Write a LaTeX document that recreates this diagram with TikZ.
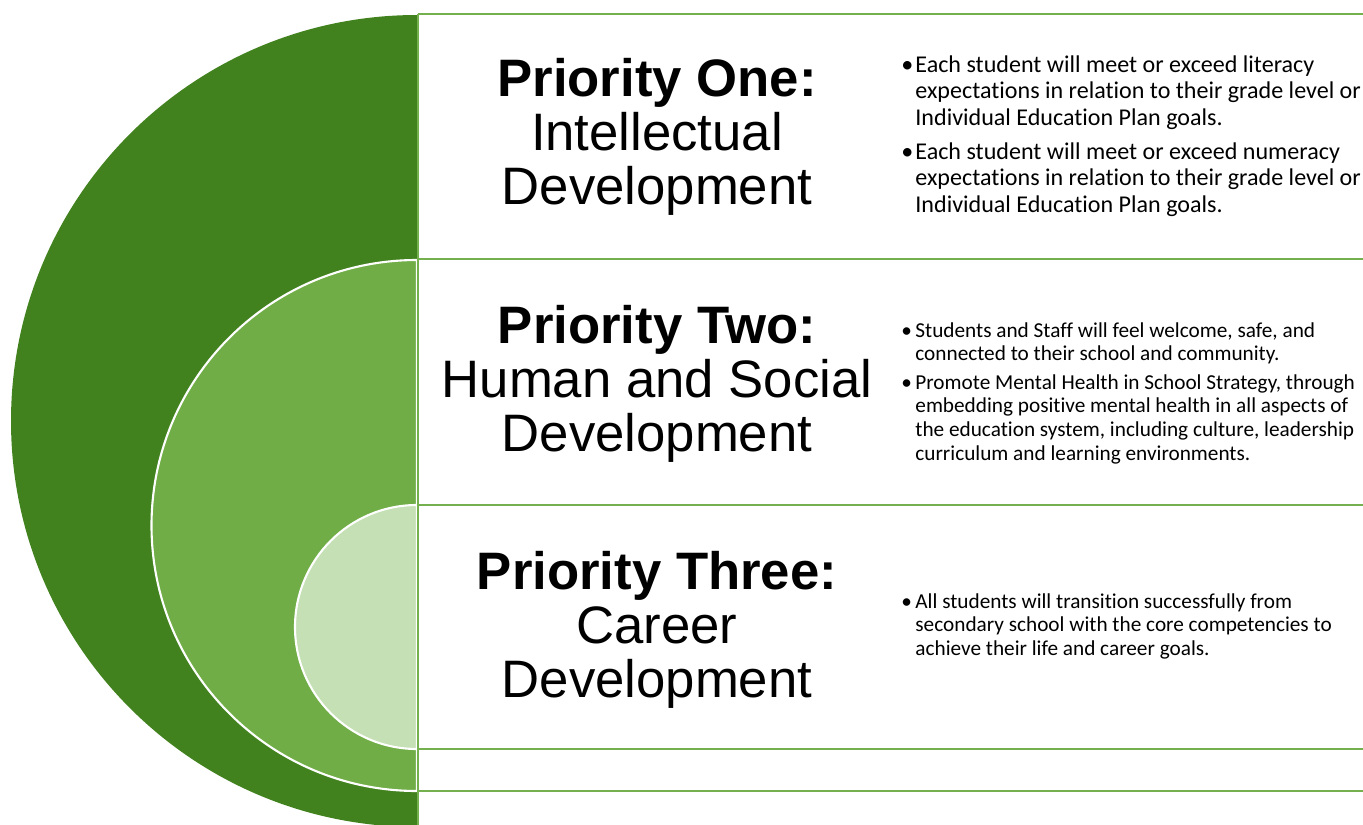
\documentclass[tikz,border=0pt]{standalone}
\usepackage{fontspec}
\setmainfont{Liberation Sans}
\newfontfamily\bodyfont[Ligatures=NoCommon]{Carlito}
\usetikzlibrary{positioning}
\definecolor{DeepGreen}{RGB}{66,130,30}
\definecolor{MidGreen}{RGB}{112,173,71}
\definecolor{PaleGreen}{RGB}{197,224,180}
\definecolor{RuleGreen}{RGB}{116,176,78}
\newcommand{\bulitem}{\makebox[8pt][l]{•}}
\newcommand{\bulgap}{\hspace*{8pt}}

\begin{document}
\begin{tikzpicture}[x=0.02cm, y=-0.02cm,
    title/.style={align=center, inner sep=0pt, font=\fontsize{30}{30.6}\selectfont},
    points/.style={align=left, inner sep=0pt, anchor=west, font=\bodyfont\fontsize{13.7}{15.2}\selectfont},
    smallpoints/.style={points, font=\bodyfont\fontsize{12.1}{13.4}\selectfont},
    rule/.style={RuleGreen, line width=1.4pt}]
    \useasboundingbox (0,0) rectangle (1363,825);
    \clip (0,0) rectangle (1363,825);

    % Nested half discs
    \fill[DeepGreen] (417,15) arc[start angle=-90, end angle=-270, radius=406] -- cycle;
    \filldraw[fill=MidGreen, draw=white, line width=1.2pt] (417,260) arc[start angle=-90, end angle=-270, radius=265.5] -- cycle;
    \filldraw[fill=PaleGreen, draw=white, line width=1.2pt] (417,505) arc[start angle=-90, end angle=-270, radius=122] -- cycle;

    % Row rules
    \draw[rule] (418,14) -- (418,825);
    \foreach \yy in {14,259,505,749,791}
        \draw[rule] (418,\yy) -- (1363,\yy);

    % Priority titles
    \node[title] (ttlOne) at (657,137) {\textbf{Priority One:}\\Intellectual\\Development};
    \node[title] (ttlTwo) at (657,384) {\textbf{Priority Two:}\\Human and Social\\Development};
    \node[title] (ttlThree) at (657,630) {\textbf{Priority Three:}\\Career\\Development};

    % Goals
    \node[points] (ptsOne) at (901,136) {\bulitem Each student will meet or exceed literacy\\
        \bulgap expectations in relation to their grade level or\\
        \bulgap Individual Education Plan goals.\\[4pt]
        \bulitem Each student will meet or exceed numeracy\\
        \bulgap expectations in relation to their grade level or\\
        \bulgap Individual Education Plan goals.};
    \node[smallpoints] (ptsTwo) at (901,393) {\bulitem Students and Staff will feel welcome, safe, and\\
        \bulgap connected to their school and community.\\[3pt]
        \bulitem Promote Mental Health in School Strategy, through\\
        \bulgap embedding positive mental health in all aspects of\\
        \bulgap the education system, including culture, leadership\\
        \bulgap curriculum and learning environments.};
    \node[smallpoints] (ptsThree) at (901,626) {\bulitem All students will transition successfully from\\
        \bulgap secondary school with the core competencies to\\
        \bulgap achieve their life and career goals.};
\end{tikzpicture}
\end{document}
